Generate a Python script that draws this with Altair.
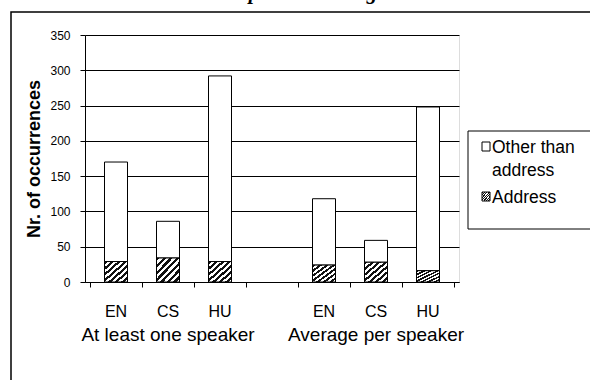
import altair as alt
import pandas as pd

# ---- data ----
languages = ["EN", "CS", "HU", "EN", "CS", "HU"]
slots = [0, 1, 2, 4, 5, 6]            # slot 3 is the empty gap between the two groups
address = [29, 34, 29, 24, 28, 16]
other_than_address = [141, 52, 263, 94, 31, 232]
groups = ["At least one speaker", "Average per speaker"]
group_slots = [1, 5]
y_ticks = [0, 50, 100, 150, 200, 250, 300, 350]
x_ticks = [0, 1, 2, 3, 4, 5, 6, 7]
legend_other = ["Other than", "address"]
legend_address = "Address"
caption = "Simple address tags"
y_title = "Nr. of occurrences"

df = pd.DataFrame({"lang": languages, "slot": slots,
                   "address": address, "other": other_than_address})
gdf = pd.DataFrame({"group": groups, "slot": group_slots})
one = pd.DataFrame({"k": [0]})

W, H = 374, 247
FONT = "Liberation Sans"

n = 7
stops = []
for i in range(n):
    stops += [{"offset": i / n, "color": "#111111"},
              {"offset": (i + 0.5) / n, "color": "#111111"},
              {"offset": (i + 0.5) / n, "color": "#ffffff"},
              {"offset": (i + 1) / n, "color": "#ffffff"}]
hatch = {"gradient": "linear", "x1": 0, "y1": 0, "x2": 1, "y2": 1, "stops": stops}

x_scale = alt.Scale(domain=[0, 7], nice=False, zero=False)
y_scale = alt.Scale(domain=[0, 350], nice=False)

x_axis = alt.Axis(values=x_ticks, labels=False, tickSize=5, grid=False,
                  domainColor="black", tickColor="black", title=None)
y_axis = alt.Axis(values=y_ticks, grid=True, gridColor="black",
                  gridWidth=1, domainColor="black", tickColor="black",
                  tickSize=5, labelPadding=10, labelFont=FONT,
                  labelFontSize=12, labelColor="black",
                  title=y_title, titleFont=FONT, titleFontSize=18,
                  titleFontWeight="bold", titleColor="black",
                  titleX=-46, titleY=H / 2, titleAngle=270,
                  titleAlign="center", titleBaseline="alphabetic")

base = alt.Chart(df).transform_calculate(
    centre="datum.slot + 0.5", top="datum.address + datum.other")

other_bars = base.mark_bar(width=23, fill="white", stroke="black",
                           strokeWidth=1, orient="vertical").encode(
    x=alt.X("centre:Q", scale=x_scale, axis=x_axis),
    y=alt.Y("top:Q", scale=y_scale, axis=y_axis),
    y2="address:Q",
)

addr_bars = base.mark_bar(width=23, fill=hatch, stroke="black",
                          strokeWidth=1, orient="vertical").encode(
    x=alt.X("centre:Q", scale=x_scale, axis=x_axis),
    y=alt.Y("address:Q", scale=y_scale, axis=y_axis),
    y2=alt.datum(0),
)

cat_labels = base.mark_text(font=FONT, fontSize=16, color="black",
                            baseline="alphabetic").encode(
    x=alt.X("centre:Q", scale=x_scale, axis=x_axis),
    y=alt.value(H + 35),
    text="lang:N",
)

group_labels = alt.Chart(gdf).transform_calculate(
    centre="datum.slot + 0.5").mark_text(
    font=FONT, fontSize=19, color="black", baseline="alphabetic").encode(
    x=alt.X("centre:Q", scale=x_scale, axis=x_axis),
    y=alt.value(H + 59),
    text="group:N",
)

border = alt.Chart(one).mark_rect(fillOpacity=0, stroke="black", strokeWidth=1.5).encode(
    x=alt.value(-74), x2=alt.value(600), y=alt.value(-23), y2=alt.value(420))

cap = alt.Chart(one).mark_text(text=caption, font="Liberation Serif", fontStyle="italic",
                               fontWeight="bold", fontSize=21, align="left",
                               baseline="alphabetic", color="black").encode(
    x=alt.value(130), y=alt.value(-36))

legend_box = alt.Chart(one).mark_rect(fill="white", stroke="black", strokeWidth=1).encode(
    x=alt.value(383), x2=alt.value(540), y=alt.value(96), y2=alt.value(194))
sym_other = alt.Chart(one).mark_rect(fill="white", stroke="black", strokeWidth=1).encode(
    x=alt.value(397), x2=alt.value(405), y=alt.value(107), y2=alt.value(116))
sym_addr = alt.Chart(one).mark_rect(fill=hatch, stroke="black", strokeWidth=1).encode(
    x=alt.value(397), x2=alt.value(405), y=alt.value(157), y2=alt.value(166))
leg_t1 = alt.Chart(one).mark_text(text=legend_other[0], font=FONT, fontSize=17.5, align="left",
                                  baseline="alphabetic", color="black").encode(
    x=alt.value(407), y=alt.value(118))
leg_t2 = alt.Chart(one).mark_text(text=legend_other[1], font=FONT, fontSize=17.5, align="left",
                                  baseline="alphabetic", color="black").encode(
    x=alt.value(407), y=alt.value(141))
leg_t3 = alt.Chart(one).mark_text(text=legend_address, font=FONT, fontSize=17.5, align="left",
                                  baseline="alphabetic", color="black").encode(
    x=alt.value(407), y=alt.value(168))

chart = alt.layer(
    border, other_bars, addr_bars, cat_labels, group_labels, cap,
    legend_box, sym_other, sym_addr, leg_t1, leg_t2, leg_t3,
).properties(
    width=W, height=H,
    autosize=alt.AutoSizeParams(type="none"),
    padding={"left": 85, "top": 35, "right": 131, "bottom": 98},
    background="white",
).configure_view(stroke="#808080", strokeWidth=1).configure(font=FONT)

chart.save("out.html", embed_options={"renderer": "svg", "actions": False})
